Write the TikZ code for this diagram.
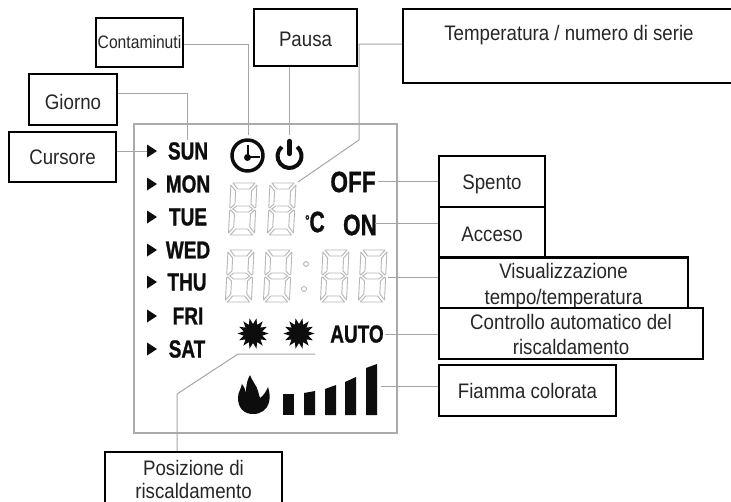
\documentclass[tikz,border=0pt]{standalone}
\usepackage{fontspec}
\setmainfont{Liberation Sans}
\newfontfamily\lcdf{Liberation Sans}[BoldFeatures={FakeBold=1.2}]
\def\uu{0.75pt}
\newcommand\nr[1]{\scalebox{.89}[1]{#1}}
\newcommand\lc[1]{\scalebox{.77}[1]{\lcdf\bfseries #1}}
\newcommand\st[1]{\rule{0pt}{#1pt}}
\newcommand\lcddigit[2]{\begin{scope}[shift={(#1,#2)},xslant=0.05,segment]
\draw (3,0)--(25,0)--(20,6)--(8,6)--cycle;
\draw (4,26)--(8,23)--(20,23)--(24,26)--(20,29)--(8,29)--cycle;
\draw (3,52)--(25,52)--(20,46)--(8,46)--cycle;
\draw (1,2)--(6,8)--(6,21)--(2,25)--(1,24)--cycle;
\draw (27,2)--(22,8)--(22,21)--(26,25)--(27,24)--cycle;
\draw (1,50)--(6,44)--(6,31)--(2,27)--(1,28)--cycle;
\draw (27,50)--(22,44)--(22,31)--(26,27)--(27,28)--cycle;
\end{scope}}
\tikzset{
 x=\uu,y=-\uu,
 ink/.style={color=black!95},
 box/.style={draw=black,line width=1.6pt,inner sep=0pt,align=center,text=black!85,fill=white,
   font=\fontsize{15.75pt}{19pt}\selectfont},
 lead/.style={draw=black!35,line width=0.75pt},
 frame/.style={draw=black!33,line width=0.9pt},
 segment/.style={draw=black!28,line width=0.7pt,line join=round},
 lcd/.style={inner sep=0pt,text=black!95,font=\fontsize{18.5pt}{20pt}\selectfont},
 lcdbig/.style={inner sep=0pt,text=black!95,font=\fontsize{22pt}{24pt}\selectfont},
 tri/.style={fill=black!95},
}
\begin{document}
\begin{tikzpicture}
\useasboundingbox (0,0) rectangle (731,501);
\fill[white] (0,0) rectangle (731,501);
% display frame
\draw[frame] (134,124) rectangle (397,433);
% connector ends
\coordinate (kCont) at (248,135);
\coordinate (kPausa) at (289,135);
\coordinate (kGiorno) at (187,140);
\coordinate (kCurs) at (147,151);
\coordinate (kTemp) at (298,182);
\coordinate (kTempB) at (359,140);
\coordinate (kOff) at (378,181);
\coordinate (kOn) at (375,223);
\coordinate (kVis) at (388,277);
\coordinate (kAuto) at (385,334);
\coordinate (kFiam) at (381,386);
\coordinate (kPosA) at (177,394);
\coordinate (kPosB) at (238,354);
\coordinate (kPosC) at (315,354);
\coordinate (yCont) at (0,44);
\coordinate (yGiorno) at (0,93);
\coordinate (yTemp) at (0,44);

% lcd labels
\node[lcd] (sun) at (188,151) {\lc{SUN}};
\node[lcd] (mon) at (188,184) {\lc{MON}};
\node[lcd] (tue) at (188,217) {\lc{TUE}};
\node[lcd] (wed) at (188,250) {\lc{WED}};
\node[lcd] (thu) at (187,282) {\lc{THU}};
\node[lcd] (fri) at (188,316) {\lc{FRI}};
\node[lcd] (sat) at (187,349) {\lc{SAT}};
\node[lcdbig] (off) at (353,182) {\lc{OFF}};
\node[lcdbig] (on) at (360,225) {\lc{ON}};
\node[lcdbig] (deg) at (315,222) {\scalebox{.72}[1]{\lcdf\bfseries{\fontsize{11pt}{11pt}\selectfont\raisebox{5pt}{°}}C}};
\node[lcd] (auto) at (357,334) {\lc{AUTO}};
% cursors
\foreach \yy in {151,184,217,250,282,316,349}
  \fill[tri] (147,\yy-6.5) -- (157,\yy) -- (147,\yy+6.5) -- cycle;
% clock
\draw[ink,line width=2.6pt] (247.5,155.5) circle (15.5);
\fill[ink] (247.5,157.5) circle (3.5);
\draw[ink,line width=2pt] (248,145) -- (248,157) -- (260,157);
% power
\draw[ink,line width=3pt] (281.8,146.8) arc[start angle=130,delta angle=280,radius=9pt];
\draw[ink,line width=3.3pt,line cap=round] (289.5,141) -- (289.5,154);
% digits
\lcddigit{230}{183}\lcddigit{269}{183}
\lcddigit{227}{250}\lcddigit{265}{250}\lcddigit{322}{250}\lcddigit{360}{250}
\draw[segment] (306,264) circle (2.5);
\draw[segment] (304,289) circle (2.5);
% suns
\foreach \cx in {253,299}{
 \fill[ink] plot[variable=\t,samples at={0,12.857,...,350}] ({\cx+(mod(round(\t/12.857),2)<1 ? 15.5 : 9.5)*cos(\t)},{333.5+(mod(round(\t/12.857),2)<1 ? 15.5 : 9.5)*sin(\t)}) -- cycle;
}
% flame
\fill[ink] (253,414) .. controls (244,414) and (238,408) .. (238,398)
 .. controls (238,392) and (241,389) .. (242,384)
 .. controls (244,386) and (245,389) .. (246,393)
 .. controls (246,386) and (247,380) .. (250,375)
 .. controls (252,381) and (257,386) .. (258,391)
 .. controls (259,394) and (259,396) .. (260,398)
 .. controls (263,396) and (266,392) .. (268,387)
 .. controls (270,393) and (270,398) .. (269,402)
 .. controls (267,410) and (261,414) .. (253,414) -- cycle;
% bars
\fill[ink] (283,394)--(294,394)--(294,415)--(283,415)--cycle;
\fill[ink] (304,393)--(315,391)--(315,415)--(304,415)--cycle;
\fill[ink] (325,389)--(336,385)--(336,415)--(325,415)--cycle;
\fill[ink] (345,382)--(356,377)--(356,415)--(345,415)--cycle;
\fill[ink] (366,368)--(377,364)--(377,415)--(366,415)--cycle;

% callout boxes
\node[box,minimum width=87*\uu,minimum height=49*\uu,font=\fontsize{13.5pt}{16pt}\selectfont] (cont) at (139.5,42.5) {\scalebox{.87}[1]{Contaminuti}};
\node[box,minimum width=103*\uu,minimum height=57*\uu] (pausa) at (305.5,37.5) {\st{13}\nr{Pausa}};
\node[box,minimum width=88*\uu,minimum height=51*\uu] (giorno) at (73,99.5) {\st{15}\nr{Giorno}};
\node[box,minimum width=107*\uu,minimum height=50*\uu] (curs) at (62.5,157) {\nr{Cursore}};
\node[box,minimum width=332*\uu,minimum height=74*\uu] (temp) at (569,46) {\rule[-20pt]{0pt}{1pt}\nr{Temperatura / numero di serie}};
\node[box,minimum width=106*\uu,minimum height=51*\uu] (spento) at (492,181.5) {\st{15}\nr{Spento}};
\node[box,minimum width=106*\uu,minimum height=50*\uu] (acceso) at (492,232) {\st{14.5}\nr{Acceso}};
\node[box,minimum width=249*\uu,minimum height=50*\uu] (vis) at (563.5,283) {\st{16}\nr{Visualizzazione}\\\nr{tempo/temperatura}};
\node[box,minimum width=264*\uu,minimum height=51*\uu] (ctrl) at (571,333.5) {\st{13}\nr{Controllo automatico del}\\\nr{riscaldamento}};
\node[box,minimum width=177*\uu,minimum height=51*\uu] (fiam) at (527.5,390.5) {\nr{Fiamma colorata}};
\node[box,minimum width=177*\uu,minimum height=55*\uu,font=\fontsize{15.75pt}{17pt}\selectfont] (pos) at (193.5,479.5) {\nr{Posizione di}\\\nr{riscaldamento}};

% connectors
\draw[lead] (cont.east |- yCont) -| (kCont);
\draw[lead] (pausa.south -| kPausa) -- (kPausa);
\draw[lead] (giorno.east |- yGiorno) -| (kGiorno);
\draw[lead] (curs.east |- kCurs) -- (kCurs);
\draw[lead] (temp.west |- yTemp) -| (kTempB) -- (kTemp);
\draw[lead] (spento.west |- kOff) -- (kOff);
\draw[lead] (acceso.west |- kOn) -- (kOn);
\draw[lead] (vis.west |- kVis) -- (kVis);
\draw[lead] (ctrl.west |- kAuto) -- (kAuto);
\draw[lead] (fiam.west |- kFiam) -- (kFiam);
\draw[lead] (pos.north -| kPosA) -- (kPosA) -- (kPosB) -- (kPosC);
\end{tikzpicture}
\end{document}
